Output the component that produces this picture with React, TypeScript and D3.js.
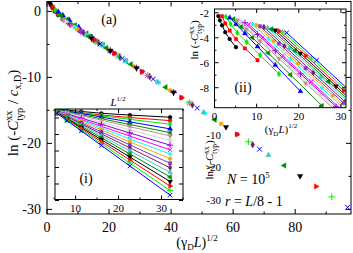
import React, { useRef, useEffect } from 'react';
import * as d3 from 'd3';

// system sizes L and damping strengths gamma_D (one series per gamma_D)
const sizes = [32, 64, 128, 256, 512, 1024];
const gammaD = [0.0254, 0.1016, 0.2286, 0.4064, 0.635, 0.9144, 1.2446, 1.6256, 2.0574, 2.54,
  3.0734, 3.6576, 4.2926, 4.9784, 5.715, 6.5024, 7.3406, 8.2296, 9.1694];

// ln(-C^xx_typ) per series, one value per L
const lnCtyp = [
  [-2.26, -2.61, -3.01, -3.56, -4.11, -4.76],
  [-2.28, -2.85, -3.42, -4.1, -4.85, -5.8],
  [-2.32, -2.9, -3.6, -4.35, -5.4, -6.9],
  [-2.4, -2.92, -3.66, -4.71, -6.19, -8.29],
  [-2.5, -3.12, -3.99, -5.22, -6.97, -9.44],
  [-2.6, -3.3, -4.28, -5.67, -7.64, -10.42],
  [-2.7, -3.51, -4.66, -6.28, -8.58, -11.82],
  [-2.8, -3.73, -5.04, -6.89, -9.52, -13.23],
  [-2.92, -3.96, -5.44, -7.52, -10.48, -14.65],
  [-2.92, -4.08, -5.72, -8.04, -11.32, -15.95],
  [-2.99, -4.27, -6.07, -8.62, -12.23, -17.32],
  [-3.08, -4.47, -6.44, -9.22, -13.15, -18.72],
  [-3.15, -4.66, -6.79, -9.8, -14.06, -20.09],
  [-3.22, -4.84, -7.14, -10.38, -14.97, -21.46],
  [-3.31, -5.05, -7.51, -10.98, -15.9, -22.86],
  [-3.4, -5.25, -7.88, -11.58, -16.83, -24.25],
  [-3.47, -5.44, -8.23, -12.17, -17.74, -25.62],
  [-3.53, -5.62, -8.57, -12.74, -18.64, -26.99],
  [-3.6, -5.8, -8.92, -13.32, -19.55, -28.36],
];

// ln c_{x,D} per series (used for the collapse in the main panel)
const lnCxD = [-3.56, -2.99, -2.51, -2.32, -1.885, -1.284, -1.103, -0.932, -0.771, -0.49,
  -0.279, -0.098, 0.113, 0.324, 0.505, 0.696, 0.907, 1.118, 1.329];

const colors = ['#000000', '#ff0000', '#00ee00', '#0000ff', '#008b00', '#bc8f8f', '#d3d3d3',
  '#9400d3', '#ff00ff', '#00ffff', '#ffa500', '#7a3ccf', '#7b1a6a', '#40c8c0', '#008b00',
  '#000000', '#ff0000', '#00ee00', '#0000ff'];

const mainXTicks = [0, 20, 40, 60, 80];
const mainYTicks = [0, -10, -20, -30];
const insetIIXTicks = [0, 10, 20, 30];
const insetIIYTicks = [-2, -4, -6, -8];
const insetIXTicks = [10, 20, 30];
const insetIYTicks = [-10, -20, -30];

const serif = "'Liberation Serif', 'Times New Roman', serif";

const shapes = [d3.symbolCircle, d3.symbolSquare, d3.symbolDiamond, d3.symbolTriangle, d3.symbolTriangle,
  d3.symbolTriangle, d3.symbolTriangle, d3.symbolPlus, d3.symbolTimes, d3.symbolAsterisk];
const turns = [0, 0, 0, 0, -90, 180, 90, 0, 0, 0];

const App = () => {
  const ref = useRef<SVGSVGElement>(null);

  useEffect(() => {
    const svg = d3.select(ref.current);
    svg.selectAll('*').remove();

    const rootL = sizes.map(L => Math.sqrt(L));

    const mark = (g, cx, cy, k, size) => {
      const s = k % 10;
      const stroked = s >= 7;
      g.append('path')
        .attr('d', d3.symbol(shapes[s], stroked ? size * 1.3 : size)())
        .attr('transform', `translate(${cx},${cy}) rotate(${turns[s]})`)
        .attr('fill', stroked ? 'none' : colors[k])
        .attr('stroke', colors[k])
        .attr('stroke-width', stroked ? 1 : 0.4);
    };

    // ticks on all four sides of a box, pointing inward
    const frameTicks = (g, x, y, xMaj, xMin, yMaj, yMin, big, small) => {
      const [x0, x1] = x.range();
      const [y0, y1] = y.range();
      const line = (a, b, c, d) => g.append('line').attr('x1', a).attr('y1', b).attr('x2', c).attr('y2', d)
        .attr('stroke', '#000').attr('stroke-width', 1);
      xMaj.forEach(v => { line(x(v), y1, x(v), y1 - big); line(x(v), y0, x(v), y0 + big); });
      xMin.forEach(v => { line(x(v), y1, x(v), y1 - small); line(x(v), y0, x(v), y0 + small); });
      yMaj.forEach(v => { line(x0, y(v), x0 + big, y(v)); line(x1, y(v), x1 - big, y(v)); });
      yMin.forEach(v => { line(x0, y(v), x0 + small, y(v)); line(x1, y(v), x1 - small, y(v)); });
      g.append('rect').attr('x', x0).attr('y', y0).attr('width', x1 - x0).attr('height', y1 - y0)
        .attr('fill', 'none').attr('stroke', '#000').attr('stroke-width', 1);
    };

    const text = (g, x, y, s, size, anchor = 'middle') => g.append('text')
      .attr('x', x).attr('y', y).attr('font-family', serif).attr('font-size', size)
      .attr('text-anchor', anchor).text(s);

    // ln (-C^xx_typ ... label
    const cLabel = (t, size, tail) => {
      const sub = size * 0.68;
      t.append('tspan').text('ln (-');
      t.append('tspan').attr('font-style', 'italic').text('C');
      t.append('tspan').attr('font-size', sub).attr('dy', -size * 0.38).text('xx');
      t.append('tspan').attr('font-size', sub).attr('dx', -sub * 1.0).attr('dy', size * 0.74).text('typ');
      t.append('tspan').attr('dy', -size * 0.36).text(tail);
    };

    // ---------- main panel ----------
    const mx = d3.scaleLinear().domain([0, 98]).range([47, 351]);
    const my = d3.scaleLinear().domain([1.5, -30.7]).range([1.5, 214]);

    svg.append('clipPath').attr('id', 'clipMain').append('rect')
      .attr('x', 47).attr('y', 1.5).attr('width', 304).attr('height', 212.5);
    const pts = svg.append('g').attr('clip-path', 'url(#clipMain)');
    lnCtyp.forEach((row, k) => {
      row.forEach((v, j) => {
        mark(pts, mx(Math.sqrt(gammaD[k]) * rootL[j]), my(v - lnCxD[k]), k, 13);
      });
    });

    const axMain = svg.append('g');
    frameTicks(axMain, mx, my, mainXTicks, [10, 30, 50, 70, 90], mainYTicks, [-5, -15, -25], 5, 2.5);
    mainXTicks.forEach(v => text(svg, mx(v), 232, String(v), 14));
    mainYTicks.forEach(v => text(svg, 41, my(v) + 5, String(v), 14, 'end'));

    const xl = text(svg, 197, 247, '', 14);
    xl.append('tspan').text('(γ');
    xl.append('tspan').attr('font-size', 9).attr('dy', 3).text('D');
    xl.append('tspan').attr('dy', -3).attr('font-style', 'italic').text('L');
    xl.append('tspan').text(')');
    xl.append('tspan').attr('font-size', 9).attr('dy', -6).text('1/2');

    const yl = svg.append('text').attr('transform', 'translate(18,113) rotate(-90)')
      .attr('font-family', serif).attr('font-size', 15).attr('text-anchor', 'middle');
    cLabel(yl, 15, ' / ');
    yl.append('tspan').attr('font-style', 'italic').text('c');
    yl.append('tspan').attr('font-size', 10).attr('dy', 3).text('x,D');
    yl.append('tspan').attr('dy', -3).text(')');

    text(svg, 109, 24, '(a)', 14);
    const nt = text(svg, 227, 184, '', 14, 'start');
    nt.append('tspan').attr('font-style', 'italic').text('N');
    nt.append('tspan').text(' = 10');
    nt.append('tspan').attr('font-size', 9).attr('dy', -6).text('5');
    const rt = text(svg, 225, 206, '', 14, 'start');
    rt.append('tspan').attr('font-style', 'italic').text('r');
    rt.append('tspan').text(' = ');
    rt.append('tspan').attr('font-style', 'italic').text('L');
    rt.append('tspan').text('/8 - 1');

    // ---------- inset (ii): ln(-C) vs (gamma_D L)^1/2 ----------
    const bx = d3.scaleLinear().domain([0, 31.2]).range([214.5, 346]);
    const by = d3.scaleLinear().domain([-1.7, -9.6]).range([9, 107.7]);
    svg.append('rect').attr('x', 214.5).attr('y', 9).attr('width', 131.5).attr('height', 98.7).attr('fill', '#fff');
    svg.append('clipPath').attr('id', 'clipB').append('rect')
      .attr('x', 214.5).attr('y', 9).attr('width', 131.5).attr('height', 98.7);
    const gb = svg.append('g').attr('clip-path', 'url(#clipB)');
    lnCtyp.forEach((row, k) => {
      const p = row.map((v, j) => [bx(Math.sqrt(gammaD[k]) * rootL[j]), by(v)] as [number, number]);
      gb.append('path').attr('d', d3.line()(p)).attr('fill', 'none').attr('stroke', colors[k]).attr('stroke-width', 1);
      p.forEach(q => mark(gb, q[0], q[1], k, 11));
    });
    const axB = svg.append('g');
    frameTicks(axB, bx, by, insetIIXTicks, [5, 15, 25], insetIIYTicks, [-3, -5, -7, -9], 4, 2);
    insetIIXTicks.forEach(v => text(svg, bx(v), 120, String(v), 11));
    insetIIYTicks.forEach(v => text(svg, 209, by(v) + 4, String(v), 11, 'end'));
    const bxl = text(svg, 281, 133, '', 11);
    bxl.append('tspan').text('(γ');
    bxl.append('tspan').attr('font-size', 7).attr('dy', 2.5).text('D');
    bxl.append('tspan').attr('dy', -2.5).attr('font-style', 'italic').text('L');
    bxl.append('tspan').text(')');
    bxl.append('tspan').attr('font-size', 7).attr('dy', -5).text('1/2');
    const byl = svg.append('text').attr('transform', 'translate(198,40) rotate(-90)')
      .attr('font-family', serif).attr('font-size', 11).attr('text-anchor', 'middle');
    cLabel(byl, 11, ')');
    text(svg, 243, 92, '(ii)', 14);

    // ---------- inset (i): ln(-C) vs L^1/2 ----------
    const ax = d3.scaleLinear().domain([5.2, 35]).range([55, 183]);
    const ay = d3.scaleLinear().domain([-2.27, -29.7]).range([109, 199.5]);
    svg.append('rect').attr('x', 55).attr('y', 109).attr('width', 128).attr('height', 90.5).attr('fill', '#fff');
    svg.append('clipPath').attr('id', 'clipA').append('rect')
      .attr('x', 55).attr('y', 109).attr('width', 128).attr('height', 90.5);
    const ga = svg.append('g').attr('clip-path', 'url(#clipA)');
    lnCtyp.forEach((row, k) => {
      const p = row.map((v, j) => [ax(rootL[j]), ay(v)] as [number, number]);
      ga.append('path').attr('d', d3.line()(p)).attr('fill', 'none').attr('stroke', colors[k]).attr('stroke-width', 1);
      p.forEach(q => mark(ga, q[0], q[1], k, 11));
    });
    const axA = svg.append('g');
    frameTicks(axA, ax, ay, insetIXTicks, [5, 15, 25, 35], [-5, ...insetIYTicks, -15, -25], [], 4, 2);
    insetIXTicks.forEach(v => text(svg, ax(v), 212, String(v), 11));
    insetIYTicks.forEach(v => text(svg, 221, ay(v) + 4, String(v), 11, 'end'));
    const atl = text(svg, 118, 106, '', 11);
    atl.append('tspan').attr('font-style', 'italic').text('L');
    atl.append('tspan').attr('font-size', 7).attr('dy', -5).text('1/2');
    const ayl = svg.append('text').attr('transform', 'translate(213,160) rotate(-90)')
      .attr('font-family', serif).attr('font-size', 11).attr('text-anchor', 'middle');
    cLabel(ayl, 11, ')');
    text(svg, 86, 183, '(i)', 14);
  }, []);

  return (
    <svg ref={ref} width={353} height={253}
      style={{ position: 'absolute', left: 0, top: 0, background: '#fff' }} />
  );
};

export default App;
